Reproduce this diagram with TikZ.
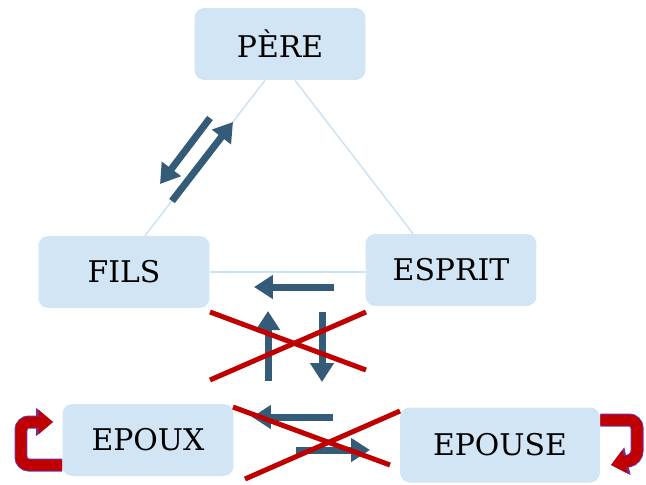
\documentclass[tikz,border=0pt]{standalone}
\usepackage{fontspec}
\setmainfont{DejaVu Serif}
\usetikzlibrary{arrows.meta}
\definecolor{boxblue}{RGB}{209,229,244}
\definecolor{linkblue}{RGB}{205,226,242}
\definecolor{arrowblue}{RGB}{52,91,119}
\definecolor{crossred}{RGB}{192,0,0}
\definecolor{rimpurple}{RGB}{112,48,160}
\tikzset{
	personbox/.style={fill=boxblue, rounded corners=0.2cm, minimum width=3.42cm, minimum height=1.44cm, font=\fontsize{17}{20}\selectfont},
	link/.style={linkblue, line width=0.3mm},
	flow/.style={arrowblue, line width=1.4mm, -{Triangle[length=3.8mm, width=4.6mm]}},
	cross/.style={crossred, line width=1mm},
	selfloop/.style={crossred, line width=2.2mm, rounded corners=0.16cm, -{Triangle[length=0pt 1.3, width=0pt 2.1]}, preaction={draw=rimpurple, line width=2.6mm, -{Triangle[length=0pt 1.3, width=0pt 2.1]}}}
}

\begin{document}
\begin{tikzpicture}[x=0.02cm, y=-0.02cm]
			%%%%% START %%%%%
			\useasboundingbox (0,0) rectangle (646,484);
			
			\node[personbox] (pere) at (280,44) {PÈRE};
			\node[personbox] (fils) at (124,272) {FILS};
			\node[personbox] (esprit) at (451,270) {ESPRIT};
			\node[personbox] (epoux) at (148,440) {EPOUX};
			\node[personbox, minimum width=4cm, minimum height=1.5cm] (epouse) at (500,445) {EPOUSE};
			
			\draw[link] ([xshift=-0.3cm]pere.south) -- ([xshift=0.42cm]fils.north);
			\draw[link] ([xshift=0.3cm]pere.south) -- ([xshift=-0.76cm]esprit.north);
			\draw[link] (fils.east) -- (fils.east -| esprit.west);
			
			\draw[flow] (210,118) -- (160,184);
			\draw[flow] (172,201) -- (233,122);
			\draw[flow] (334,287) -- (254,287);
			\draw[flow] (268,381) -- (268,311);
			\draw[flow] (322,312) -- (322,382);
			\draw[flow] (333,417) -- (252,417);
			\draw[flow] (296,450) -- (370,450);
			
			\draw[cross] (210,312) -- (366,370);
			\draw[cross] (210,380) -- (366,312);
			\draw[cross] (233,407) -- (390,465);
			\draw[cross] (245,479) -- (400,411);
			
			\draw[selfloop] (epoux.west |- 0,465) -- (21,465) -- (21,422) -- (53,422);
			\draw[selfloop] (epouse.east |- 0,420) -- (637,420) -- (637,459) -- (611,465);
			
			%%%%% END %%%%%
\end{tikzpicture}
\end{document}
